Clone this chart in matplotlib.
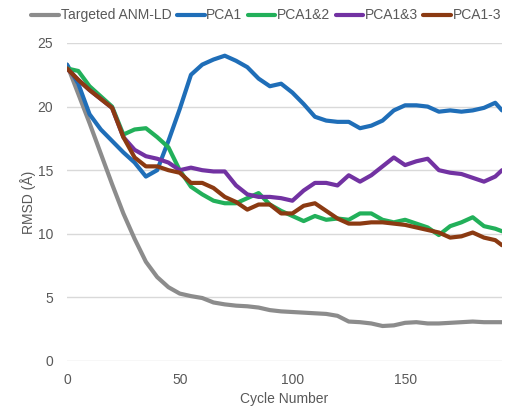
import numpy as np
import matplotlib
matplotlib.use("Agg")
import matplotlib.pyplot as plt

plt.rcParams['font.family'] = ['Liberation Sans', 'DejaVu Sans']

cycles = [0, 5, 10, 15, 20, 25, 30, 35, 40, 45, 50, 55, 60, 65, 70, 75, 80, 85, 90, 95,
          100, 105, 110, 115, 120, 125, 130, 135, 140, 145, 150, 155, 160, 165, 170, 175,
          180, 185, 190, 193]

anm_ld = [23.3, 21.0, 18.7, 16.3, 13.9, 11.6, 9.6, 7.8, 6.6, 5.8, 5.3, 5.1, 4.95, 4.6, 4.45,
          4.35, 4.3, 4.2, 4.0, 3.9, 3.85, 3.8, 3.75, 3.7, 3.55, 3.1, 3.05, 2.95, 2.75, 2.8,
          3.0, 3.05, 2.95, 2.95, 3.0, 3.05, 3.1, 3.05, 3.05, 3.05]
pca1 = [23.3, 21.8, 19.4, 18.2, 17.3, 16.4, 15.6, 14.5, 15.0, 17.3, 19.8, 22.5, 23.3, 23.7,
        24.0, 23.6, 23.1, 22.2, 21.6, 21.8, 21.1, 20.2, 19.2, 18.9, 18.8, 18.8, 18.3, 18.5,
        18.9, 19.7, 20.1, 20.1, 20.0, 19.6, 19.7, 19.6, 19.7, 19.9, 20.3, 19.7]
pca12 = [23.0, 22.8, 21.6, 20.8, 20.0, 17.8, 18.2, 18.3, 17.6, 16.8, 15.0, 13.7, 13.1, 12.6,
         12.4, 12.4, 12.8, 13.2, 12.3, 11.8, 11.4, 11.0, 11.4, 11.1, 11.2, 11.1, 11.6, 11.6,
         11.1, 10.9, 11.1, 10.8, 10.5, 9.9, 10.6, 10.9, 11.3, 10.6, 10.4, 10.2]
pca13 = [23.0, 22.1, 21.3, 20.6, 19.9, 17.6, 16.6, 16.1, 15.9, 15.6, 15.0, 15.2, 15.0, 14.9,
         14.9, 13.8, 13.1, 12.9, 12.9, 12.8, 12.6, 13.4, 14.0, 14.0, 13.8, 14.6, 14.1, 14.6,
         15.3, 16.0, 15.4, 15.7, 15.9, 15.0, 14.8, 14.7, 14.4, 14.1, 14.5, 15.0]
pca1_3 = [23.0, 22.1, 21.3, 20.6, 19.9, 17.6, 16.0, 15.3, 15.3, 15.0, 14.8, 14.0, 14.0, 13.6,
          12.9, 12.5, 11.9, 12.3, 12.3, 11.6, 11.6, 12.2, 12.4, 11.8, 11.2, 10.8, 10.8, 10.9,
          10.9, 10.8, 10.7, 10.5, 10.3, 10.1, 9.7, 9.8, 10.1, 9.7, 9.5, 9.1]

series = [
    ("Targeted ANM-LD", anm_ld, "#8c8c8c"),
    ("PCA1", pca1, "#1f6eb8"),
    ("PCA1&2", pca12, "#22b05a"),
    ("PCA1&3", pca13, "#7232a2"),
    ("PCA1-3", pca1_3, "#8b3a12"),
]

fig = plt.figure(figsize=(5.17, 4.11), dpi=100)
ax = fig.add_axes([0.1296, 0.1217, 0.8414, 0.7737])

for name, vals, col in series:
    ax.plot(cycles, vals, color=col, lw=3.0, label=name, solid_capstyle='round')

ax.set_xlim(0, 193)
ax.set_ylim(0, 25)
ax.set_xticks([0, 50, 100, 150])
ax.set_yticks([0, 5, 10, 15, 20, 25])
ax.yaxis.grid(True, color="#d9d9d9", lw=1)
ax.set_axisbelow(True)
for s in ax.spines.values():
    s.set_visible(False)
ax.tick_params(length=0, labelsize=10, labelcolor="#595959")
ax.tick_params(axis='y', pad=10)
ax.tick_params(axis='x', pad=9)
ax.set_xlabel("Cycle Number", fontsize=10, color="#595959", labelpad=3)
ax.set_ylabel("RMSD (Å)", fontsize=10, color="#595959", labelpad=1)

fig.legend(loc="upper center", bbox_to_anchor=(0.515, 1.01), ncol=5, frameon=False,
           fontsize=10, handlelength=2.0, handletextpad=0.1, columnspacing=0.4,
           labelcolor="#595959")

fig.savefig("out.png", dpi=100)
